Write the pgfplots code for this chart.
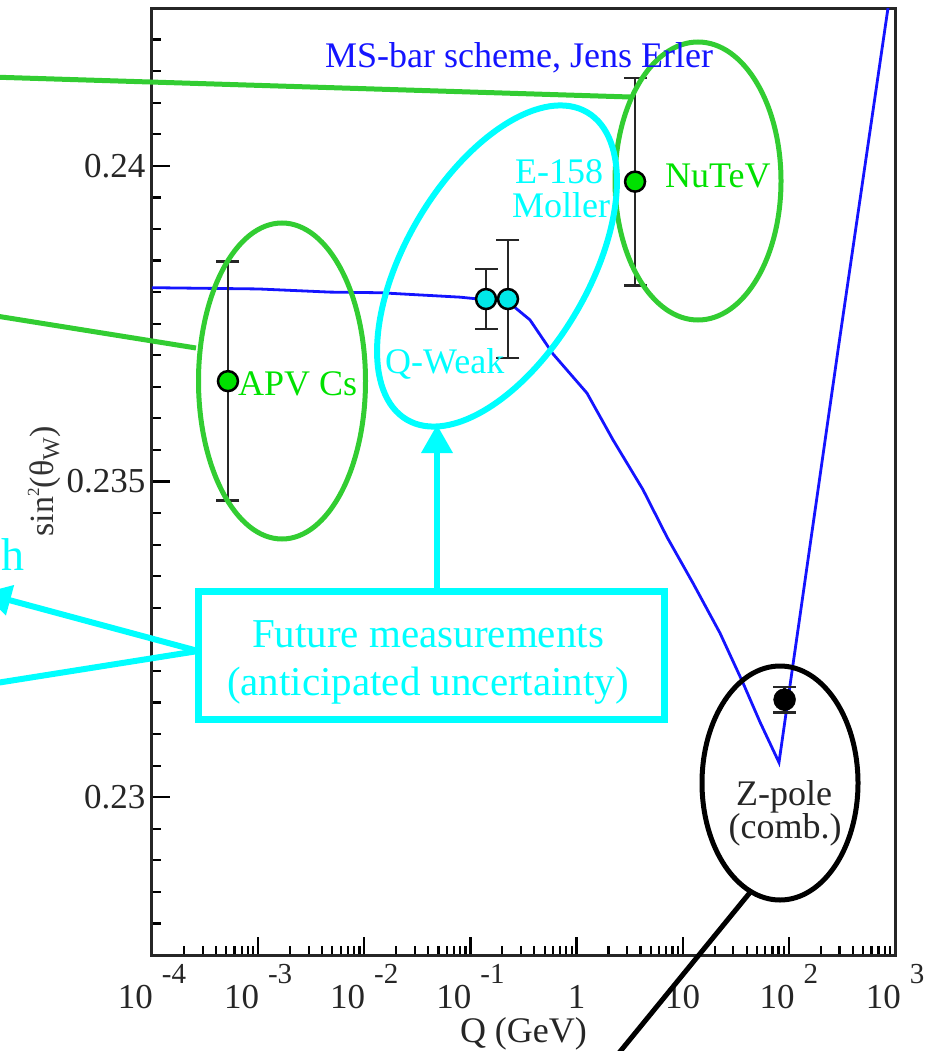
\documentclass[border=0pt]{standalone}
\usepackage{fontspec}
\setmainfont{Liberation Serif}
\usepackage{pgfplots}
\pgfplotsset{compat=1.18}
\usetikzlibrary{arrows.meta}
\definecolor{lgreen}{RGB}{50,205,50}
\definecolor{tgreen}{RGB}{0,225,0}
\definecolor{cy}{RGB}{0,255,255}
\definecolor{cyd}{RGB}{0,232,232}
\definecolor{bl}{RGB}{20,20,255}
\newcommand{\fs}[1]{\fontsize{#1}{#1}\selectfont}
\newcommand{\tp}[1]{10\hspace{9pt}\raisebox{25pt}{\fs{29}#1}}
\begin{document}
\begin{tikzpicture}[x=1pt,y=-1pt]
\useasboundingbox (0,0) rectangle (924,1051);
\clip (0,0) rectangle (924,1051);
\begin{axis}[
  at={(152pt,-955pt)}, anchor=south west,
  scale only axis, width=743pt, height=947pt,
  xmode=log, xmin=1e-4, xmax=1e3, ymin=0.2275, ymax=0.2425,
  tick pos=left, tick align=inside,
  xtick={1e-4,1e-3,1e-2,1e-1,1,10,100,1000},
  xticklabels={\tp{-4},\tp{-3},\tp{-2},\tp{-1},1,10,\tp{2},\tp{3}},
  minor xtick={2e-4,3e-4,4e-4,5e-4,6e-4,7e-4,8e-4,9e-4,
    2e-3,3e-3,4e-3,5e-3,6e-3,7e-3,8e-3,9e-3,
    2e-2,3e-2,4e-2,5e-2,6e-2,7e-2,8e-2,9e-2,
    0.2,0.3,0.4,0.5,0.6,0.7,0.8,0.9,
    2,3,4,5,6,7,8,9,20,30,40,50,60,70,80,90,
    200,300,400,500,600,700,800,900},
  ytick={0.23,0.235,0.24},
  yticklabels={0.23,0.235,0.24},
  minor ytick={0.2275,0.228,0.2285,0.229,0.2295,0.2305,0.231,0.2315,0.232,0.2325,0.233,0.2335,0.234,0.2345,0.2355,0.236,0.2365,0.237,0.2375,0.238,0.2385,0.239,0.2395,0.2405,0.241,0.2415,0.242},
  major tick length=18pt, minor tick length=9pt,
  every tick/.style={black, line width=2.2pt},
  axis line style={black!85, line width=3pt},
  ticklabel style={font=\fs{35}, text=black!85},
  xticklabel style={anchor=base, yshift=-53pt, inner sep=0pt},
  yticklabel style={anchor=east, xshift=-3pt},
  xlabel={Q (GeV)},
  xlabel style={at={(axis description cs:0.5,0)}, anchor=base, yshift=-87pt, inner sep=0pt, font=\fs{36}, text=black!85},
  ylabel={sin\raisebox{14pt}{\fs{17}2}(θ\raisebox{-6pt}{\fs{24}W})},
  ylabel style={at={(axis description cs:-0.1332,0.5)}, anchor=base, inner sep=0pt, font=\fs{34}, text=black!80},
]
\addplot[bl, line width=2.8pt] coordinates {
 (1e-4,0.23807) (1e-3,0.23805) (4.753e-3,0.23800) (1.406e-2,0.23799)
 (7.98e-2,0.23792) (0.1371,0.23788) (0.2213,0.23786) (0.3639,0.23756)
 (0.600,0.23702) (1.253,0.23640) (2.203,0.23566) (4.227,0.23487)
 (7.112,0.23412) (12.50,0.23339) (22.44,0.23260) (36.98,0.23181)
 (53.46,0.23119) (80.72,0.23055) (290.4,0.23708) (859.0,0.24250)
};
% error bars: vertical segments
\addplot[black!85, line width=2.5pt] coordinates {(5.20e-4,0.23470) (5.20e-4,0.23848)};
\addplot[black!85, line width=2.5pt] coordinates {(3.556,0.23811) (3.556,0.24139)};
\addplot[black!85, line width=2.5pt] coordinates {(0.1403,0.237415) (0.1403,0.238365)};
\addplot[black!85, line width=2.5pt] coordinates {(0.2259,0.236955) (0.2259,0.238825)};
\addplot[black!85, line width=2.5pt] coordinates {(91.19,0.231345) (91.19,0.231745)};
% error bar caps
\addplot[black!85, line width=2.8pt, only marks, mark=-, mark size=11.5pt, mark options={black!85, line width=2.8pt}] coordinates {
 (5.20e-4,0.23470) (5.20e-4,0.23848)
 (3.556,0.23811) (3.556,0.24139)
 (0.1403,0.237415) (0.1403,0.238365)
 (0.2259,0.236955) (0.2259,0.238825)
 (91.19,0.231345) (91.19,0.231745)
};
\addplot[only marks, mark=*, mark size=10pt, mark options={fill=tgreen, draw=black, line width=2.5pt}]
 coordinates {(5.20e-4,0.23659) (3.556,0.23975)};
\addplot[only marks, mark=*, mark size=10pt, mark options={fill=cyd, draw=black, line width=2.5pt}]
 coordinates {(0.1403,0.23789) (0.2259,0.23789)};
\addplot[only marks, mark=*, mark size=11pt, mark options={fill=black, draw=black}]
 coordinates {(91.19,0.231545)};
\end{axis}
% annotations
\draw[lgreen, line width=5pt] (282,381) ellipse [x radius=83.5, y radius=158];
\draw[lgreen, line width=5pt] (698,181) ellipse [x radius=83, y radius=139];
\draw[cy, line width=6pt, rotate around={-30.4:(497,266)}] (497,266) ellipse [x radius=91.7, y radius=178.2];
\draw[black, line width=5pt] (780,783) ellipse [x radius=78, y radius=117];
\draw[lgreen, line width=5pt] (-10,77) -- (630,97);
\draw[lgreen, line width=5pt] (-10,315) -- (196,348);
\draw[black, line width=5pt] (752,890) -- (605,1070);
\draw[cy, line width=6pt, -{Triangle[length=28pt,width=30pt]}] (198,651) -- (-17,593);
\draw[cy, line width=6pt] (198,651) -- (-10,684);
\draw[cy, line width=6pt] (437,591) -- (437,445);
\fill[cy] (437,425) -- (421,453) -- (453,453) -- cycle;
\draw[cy, line width=7pt] (198,591) rectangle (664,719);
\node[anchor=base west, inner sep=0, text=bl, font=\fs{36}] at (325,68) {MS-bar scheme, Jens Erler};
\node[anchor=base west, inner sep=0, text=tgreen, font=\fs{36}] at (665,188) {NuTeV};
\node[anchor=base west, inner sep=0, text=tgreen, font=\fs{36}] at (238,395) {APV Cs};
\node[anchor=base, inner sep=0, text=cy, font=\fs{36}] at (559,183) {E-158};
\node[anchor=base, inner sep=0, text=cy, font=\fs{36}] at (561,217) {Moller};
\node[anchor=base west, inner sep=0, text=cy, font=\fs{36}] at (385,373) {Q-Weak};
\node[anchor=base, inner sep=0, text=black!85, font=\fs{36}] at (784,805) {Z-pole};
\node[anchor=base, inner sep=0, text=black!85, font=\fs{36}] at (785,838) {(comb.)};
\node[anchor=base, inner sep=0, text=cy, font=\fs{41}] at (428,647) {Future measurements};
\node[anchor=base, inner sep=0, text=cy, font=\fs{41}] at (428,695) {(anticipated uncertainty)};
\node[anchor=base east, inner sep=0, text=cy, font=\fs{46}] at (25,570) {h};
\end{tikzpicture}
\end{document}
